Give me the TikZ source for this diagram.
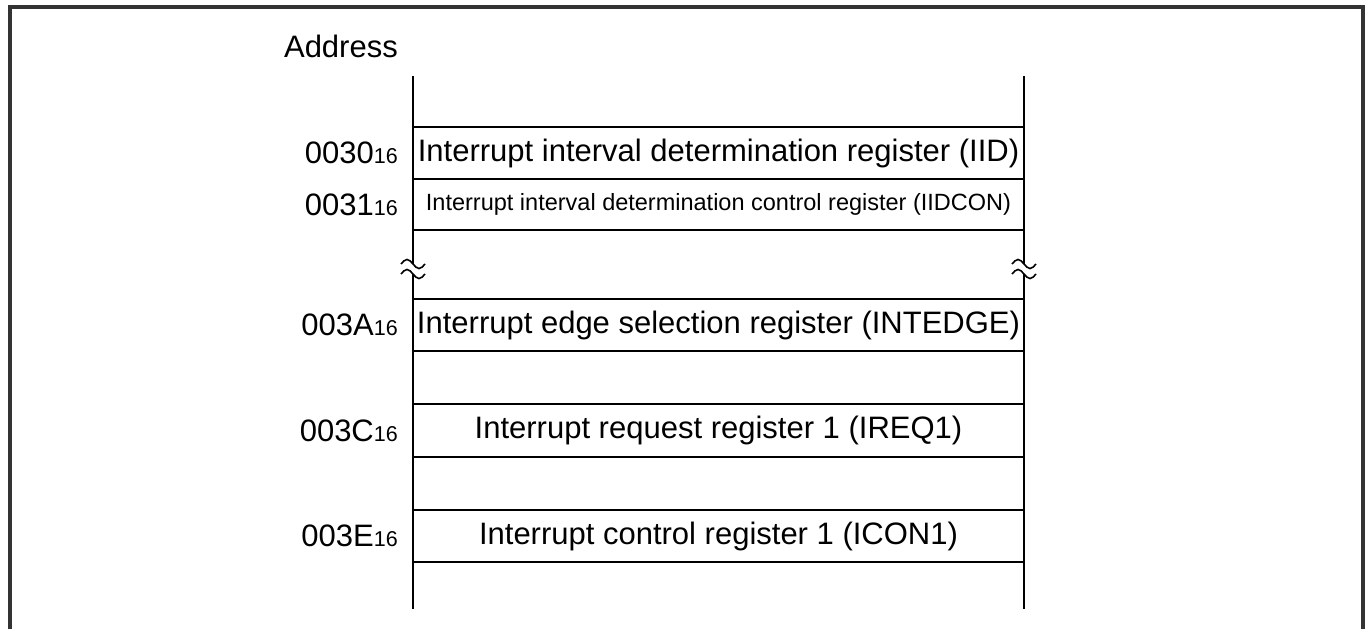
\documentclass[tikz,border=0pt]{standalone}
\usepackage{fontspec}
\setmainfont{Liberation Sans}
\usetikzlibrary{positioning}
\tikzset{
  reg/.style={draw,line width=1.9pt,outer sep=0pt,inner sep=0pt,
    minimum width=611pt,minimum height=52pt,font=\fontsize{31}{31}\selectfont},
  addr/.style={inner sep=0pt,font=\fontsize{31}{31}\selectfont},
  side/.style={line width=1.9pt},
  brk/.style={line width=1.6pt},
}
\newcommand{\hexsub}[1]{#1{\fontsize{21.5}{22}\selectfont 16}}

\begin{document}
\begin{tikzpicture}[x=1pt,y=-1pt]
  \useasboundingbox (0,0) rectangle (1372,629);
  % frame, open at the bottom
  \draw[line width=4.5pt,black!80] (10,629) -- (10,7) -- (1363,7) -- (1363,629);

  % sides of the memory map, broken at the gap
  \coordinate (lt) at (413,76);
  \coordinate (lb) at (413,609);
  \coordinate (rt) at (1024,76);
  \coordinate (rb) at (1024,609);
  \coordinate (lbrka) at (413,264);
  \coordinate (lbrkb) at (413,274);
  \coordinate (rbrka) at (1024,264);
  \coordinate (rbrkb) at (1024,274);
  \draw[side] (lt) -- (lbrka) (lbrkb) -- (lb);
  \draw[side] (rt) -- (rbrka) (rbrkb) -- (rb);

  % registers
  \node[reg] (iid) at (718.5,153) {Interrupt interval determination register (IID)};
  \node[reg,minimum height=51pt,font=\fontsize{23.5}{24}\selectfont,below=0pt of iid] (iidcon)
    {Interrupt interval determination control register (IIDCON)};
  \node[reg] (intedge) at (718.5,325) {Interrupt edge selection register (INTEDGE)};
  \node[reg,minimum height=53pt] (ireq) at (718.5,430.5) {Interrupt request register 1 (IREQ1)};
  \node[reg] (icon) at (718.5,536) {Interrupt control register 1 (ICON1)};

  % addresses
  \node[addr,anchor=east] (addrlbl) at (398,46) {Address};
  \node[addr,left=15pt of iid.west] (a30) {\hexsub{0030}};
  \node[addr,left=15pt of iidcon.west] (a31) {\hexsub{0031}};
  \node[addr,left=15pt of intedge.west] (a3a) {\hexsub{003A}};
  \node[addr,left=15pt of ireq.west] (a3c) {\hexsub{003C}};
  \node[addr,left=15pt of icon.west] (a3e) {\hexsub{003E}};

  % break marks
  \foreach \x in {413,1024} {
    \draw[brk] (\x-12,264) sin (\x-6,259.5) cos (\x,264) sin (\x+6,268.5) cos (\x+12,264);
    \draw[brk] (\x-12,274) sin (\x-6,269.5) cos (\x,274) sin (\x+6,278.5) cos (\x+12,274);
  }
\end{tikzpicture}
\end{document}
